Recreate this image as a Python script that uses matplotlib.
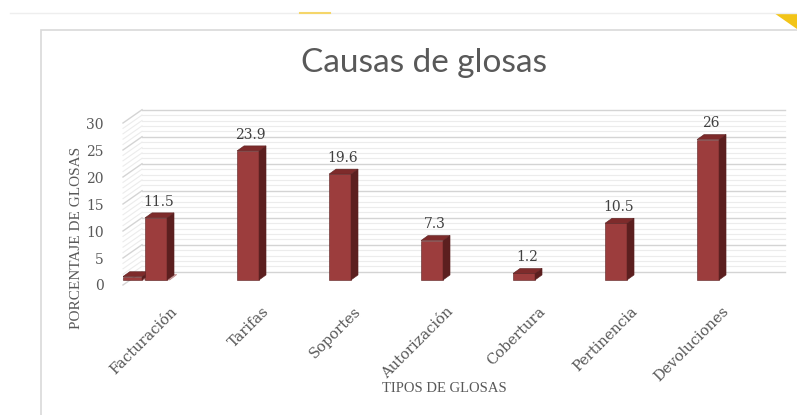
import numpy as np
import matplotlib
matplotlib.use("Agg")
import matplotlib.pyplot as plt
from matplotlib.patches import Polygon, Rectangle
from matplotlib.lines import Line2D
from matplotlib.transforms import ScaledTranslation

plt.rcParams['font.family'] = ['DejaVu Serif']

# data
categories = ["Facturación", "Tarifas", "Soportes", "Autorización",
              "Cobertura", "Pertinencia", "Devoluciones"]
values = [11.5, 23.9, 19.6, 7.3, 1.2, 10.5, 26]
value_labels = ["11.5", "23.9", "19.6", "7.3", "1.2", "10.5", "26"]
y_ticks = [0, 5, 10, 15, 20, 25, 30]

W, H = 797, 415
fig = plt.figure(figsize=(W / 100, H / 100), dpi=100)

# axes = front plane of the 3D box (0 -> y=285px, 30 -> y=123px)
left_px, right_px, bot_px, top_px = 123, 766, 285, 123
ax = fig.add_axes([left_px / W, 1 - bot_px / H,
                   (right_px - left_px) / W, (bot_px - top_px) / H])
ax.set_xlim(-0.359, 6.63)
ax.set_ylim(0, 30)
for s in ax.spines.values():
    s.set_visible(False)

# 3D look (in data units)
wall_dx, wall_dy = 0.2065, 2.46    # back wall offset
bar_w = 0.239
dep_x, dep_y = 0.076, 0.93         # bar depth
base = 0.93                        # bars sit a bit behind the front edge
x_left, x_back_right = -0.359, 6.837

front_c, side_c, top_c, edge_c = "#9C3D3D", "#5C1F1F", "#7E2B2B", "#5a2020"

# back wall + side wall gridlines
for v in np.arange(0, 31, 1):
    major = v % 5 == 0
    col = "#d4d4d4" if major else "#ececec"
    lw = 1.0 if major else 0.8
    ax.plot([x_left + wall_dx, x_back_right], [v + wall_dy, v + wall_dy],
            color=col, lw=lw, clip_on=False, zorder=1)
    ax.plot([x_left, x_left + wall_dx], [v, v + wall_dy],
            color=col, lw=lw, clip_on=False, zorder=1)


def bar3d(xc, h, b, w, front=front_c):
    x0, x1 = xc - w / 2, xc + w / 2
    ax.bar(xc, h, width=w, bottom=b, color=front, edgecolor=edge_c,
           lw=0.4, zorder=3)
    ax.add_patch(Polygon([(x1, b), (x1 + dep_x, b + dep_y),
                          (x1 + dep_x, b + h + dep_y), (x1, b + h)],
                         closed=True, fc=side_c, ec=edge_c, lw=0.4, zorder=3))
    ax.add_patch(Polygon([(x0, b + h), (x0 + dep_x, b + h + dep_y),
                          (x1 + dep_x, b + h + dep_y), (x1, b + h)],
                         closed=True, fc=top_c, ec=edge_c, lw=0.4, zorder=3))


# odd floor slab next to the first bar
bar3d(-0.257, 0.6, base, 0.21)
ax.add_patch(Polygon([(0 - bar_w / 2 - 0.03, base), (0 + bar_w / 2 + 0.03, base),
                      (0 + bar_w / 2 + 0.03 + dep_x, base + 1.0),
                      (0 - bar_w / 2 - 0.03 + dep_x, base + 1.0)],
                     closed=True, fc="#cfa3a3", ec="#b88080", lw=0.4, zorder=2))

for i, v in enumerate(values):
    bar3d(i, v, base, bar_w)
    ax.text(i + 0.03, base + v + dep_y + 0.8, value_labels[i],
            ha="center", va="bottom", fontsize=10, color="#404040", zorder=4)

# ticks
ax.set_yticks(y_ticks)
ax.tick_params(axis="y", length=0, pad=14, labelsize=10, labelcolor="#595959")
ax.set_xticks(range(len(categories)))
ax.set_xticklabels(categories, rotation=45, ha="right", rotation_mode="anchor",
                   fontsize=10.5, color="#595959")
ax.tick_params(axis="x", length=0, pad=14)
shift = ScaledTranslation(14 / 100, 0, fig.dpi_scale_trans)
for lab in ax.get_xticklabels():
    lab.set_transform(lab.get_transform() + shift)

fig.text(77 / W, 1 - 238 / H, "PORCENTAJE DE GLOSAS", rotation=90,
         ha="center", va="center", fontsize=11, color="#595959",
         family="Liberation Serif")
fig.text(444 / W, 1 - 388 / H, "TIPOS DE GLOSAS", ha="center", va="center",
         fontsize=10.5, color="#595959", family="Liberation Serif")
fig.text(424 / W, 1 - 63 / H, "Causas de glosas", ha="center", va="center",
         fontsize=24, color="#595959", family=["Lato", "DejaVu Sans"])

# chart frame and page decorations
fig.add_artist(Rectangle((41 / W, -0.05), 1.0, (H - 30) / H + 0.05,
                         transform=fig.transFigure, fill=False,
                         ec="#d9d9d9", lw=1.2))
fig.add_artist(Line2D([10 / W, 1], [1 - 13 / H, 1 - 13 / H],
                      transform=fig.transFigure, color="#eeeeee", lw=1))
fig.add_artist(Line2D([300 / W, 330 / W], [1 - 13 / H, 1 - 13 / H],
                      transform=fig.transFigure, color="#f5d66a", lw=1.5))
fig.add_artist(Polygon([(774 / W, 1 - 13 / H), (1, 1 - 13 / H), (1, 1 - 29 / H)],
                       closed=True, transform=fig.transFigure,
                       fc="#f2c418", ec="none"))

fig.savefig("out.png", dpi=100)
